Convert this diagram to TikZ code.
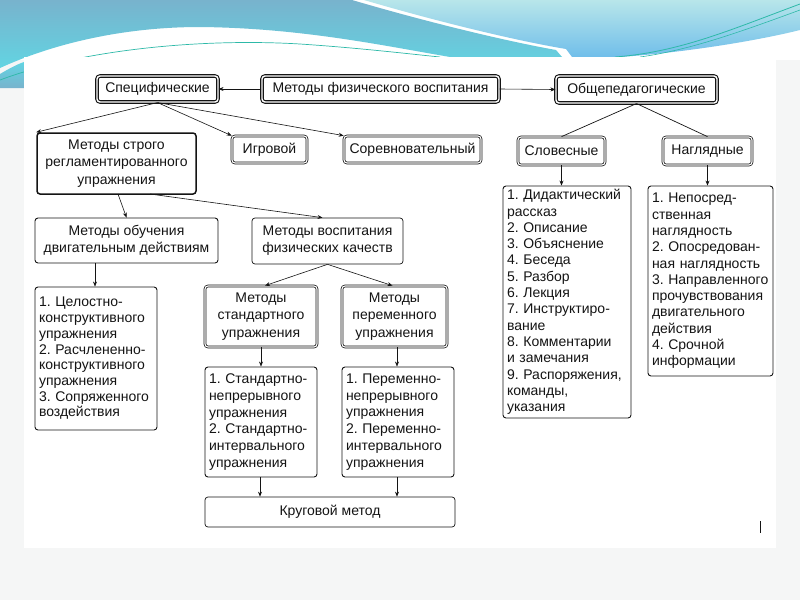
\documentclass[tikz,border=0pt]{standalone}
\usepackage{fontspec}
\setmainfont{Liberation Sans}
\usetikzlibrary{arrows.meta}
\frenchspacing
\definecolor{ink}{HTML}{141414}
\definecolor{slidebg}{HTML}{F5F6F6}
\definecolor{tealA}{HTML}{78B3CD}
\definecolor{tealB}{HTML}{62D4E2}
\definecolor{blueA}{HTML}{B8E6EA}
\definecolor{blueB}{HTML}{70BEEA}
\definecolor{tline}{HTML}{2DB9A8}
\tikzset{
  base/.style={rounded corners=3pt, text=ink, align=center, inner sep=2pt},
  topbox/.style={base, draw=ink, line width=1.1pt, double=white, double distance=1.4pt},
  dblbox/.style={base, draw=ink, line width=0.75pt, double=white, double distance=1.1pt},
  thickbox/.style={base, draw=ink, line width=1.5pt},
  plainbox/.style={base, draw=ink, line width=0.9pt},
  thinbox/.style={base, draw=ink, line width=0.7pt},
  listbox/.style={base, draw=ink, line width=0.9pt, align=left, inner xsep=4pt, font=\fontsize{14}{16.3}\selectfont},
  arr/.style={draw=ink, line width=0.6pt, -{Stealth[length=5pt,width=4pt]}},
  link/.style={draw=ink, line width=0.7pt}
}
\begin{document}
\begin{tikzpicture}[x=1pt,y=-1pt,font=\fontsize{14}{17.2}\selectfont]
\useasboundingbox (0,0) rectangle (800,600);
% slide background
\fill[slidebg] (0,0) rectangle (800,600);
\fill[white] (0,0) rectangle (800,60);
% waves
\shade[top color=tealA, bottom color=tealB]
  (0,0) -- (352,0) .. controls (420,20) and (500,40) .. (556,50) -- (562,57)
  -- (450,57) .. controls (380,45) and (300,28) .. (200,27)
  .. controls (120,27) and (50,45) .. (0,68) -- cycle;
\shade[top color=blueA, bottom color=blueB]
  (364,0) .. controls (432,20) and (512,40) .. (566,49) -- (572,57)
  -- (620,57) .. controls (690,52) and (760,40) .. (800,30) -- (800,0) -- cycle;
\shade[top color=tealB, bottom color=tealA] (0,74) .. controls (10,68) and (18,64) .. (24,62) -- (24,88) -- (0,88) -- cycle;
\draw[tline, line width=0.8pt] (800,4) .. controls (730,30) and (680,52) .. (615,57);
\draw[tline, line width=0.6pt] (800,10) .. controls (740,32) and (690,50) .. (640,57);
\draw[tline, line width=0.7pt] (0,80) .. controls (80,50) and (200,38) .. (300,44) .. controls (360,48) and (410,54) .. (440,57);
% page
\fill[white] (24,57) rectangle (776,548);
\draw[ink, line width=0.6pt] (760,521) -- (760,533);

% top row
\node[topbox, minimum width=121pt, minimum height=26pt] (spec) at (157.5,89) {Специфические};
\node[topbox, minimum width=237pt, minimum height=26pt] (main) at (380.5,89) {Методы физического воспитания};
\node[topbox, minimum width=161pt, minimum height=27pt] (obsh) at (636.5,89.5) {Общепедагогические};

% second row
\node[thickbox, minimum width=159pt, minimum height=61pt] (strogo) at (116.5,163.5) {Методы строго\\регламентированного\\упражнения};
\node[dblbox, minimum width=75pt, minimum height=27pt] (igr) at (269.5,149.5) {Игровой};
\node[dblbox, minimum width=137pt, minimum height=27pt] (sorev) at (412.5,149.5) {Соревновательный};
\node[dblbox, minimum width=87pt, minimum height=28pt] (slov) at (561.5,151) {Словесные};
\node[dblbox, minimum width=89pt, minimum height=28pt] (nagl) at (707.5,151) {Наглядные};

% lists on the right
\node[listbox, text width=120pt, minimum height=232pt] (slovlist) at (567,302) {1. Дидактический\\рассказ\\2. Описание\\3. Объяснение\\4. Беседа\\5. Разбор\\6. Лекция\\7. Инструктиро-\\вание\\8. Комментарии\\и замечания\\9. Распоряжения,\\команды,\\указания};
\node[listbox, text width=117pt, minimum height=190pt] (nagllist) at (710.5,281) {1. Непосред-\\ственная\\наглядность\\2. Опосредован-\\ная наглядность\\3. Направленного\\прочувствования\\двигательного\\действия\\4. Срочной\\информации};

% third row
\node[plainbox, minimum width=183pt, minimum height=45pt] (obuch) at (126.5,240.5) {Методы обучения\\двигательным действиям};
\node[thinbox, minimum width=151pt, minimum height=46pt] (vosp) at (327.5,241) {Методы воспитания\\физических качеств};

\node[listbox, text width=114pt, minimum height=143pt, font=\fontsize{14}{15.7}\selectfont] (list1) at (96,358.5) {1. Целостно-\\конструктивного\\упражнения\\2. Расчлененно-\\конструктивного\\упражнения\\3. Сопряженного\\воздействия};

\node[dblbox, minimum width=112pt, minimum height=61pt] (std) at (261,316.5) {Методы\\стандартного\\упражнения};
\node[dblbox, minimum width=105pt, minimum height=61pt] (per) at (394.5,316.5) {Методы\\переменного\\упражнения};

\node[listbox, text width=104pt, minimum height=110pt, font=\fontsize{14}{16.8}\selectfont] (stdlist) at (261,422) {1. Стандартно-\\непрерывного\\упражнения\\2. Стандартно-\\интервального\\упражнения};
\node[listbox, text width=104pt, minimum height=110pt, font=\fontsize{14}{16.8}\selectfont] (perlist) at (398,422) {1. Переменно-\\непрерывного\\упражнения\\2. Переменно-\\интервального\\упражнения};

\node[thinbox, minimum width=250pt, minimum height=30pt] (krug) at (330,512) {Круговой метод};

% connectors
\draw[arr] (main.west) -- (spec.east);
\draw[arr] (main.east) -- (obsh.west);
\draw[arr] (spec.south) -- (strogo.north west);
\draw[arr] (spec.south) -- (igr.north west);
\draw[arr] (spec.south) -- (sorev.north west);
\draw[link] (obsh.south) -- (slov.north);
\draw[link] (obsh.south) -- (nagl.north);
\draw[arr] (slov.south) -- (slov.south |- slovlist.north);
\draw[arr] (nagl.south) -- (nagl.south |- nagllist.north);
\coordinate (s1) at (118,194);
\coordinate (s2) at (150,194);
\draw[arr] (s1) -- (obuch.north);
\draw[arr] (s2) -- ([xshift=-5pt]vosp.north);
\coordinate (o1) at (95,263);
\draw[arr] (o1) -- (o1 |- list1.north);
\draw[arr] (vosp.south) -- ([xshift=4pt]std.north);
\draw[arr] (vosp.south) -- ([xshift=-2pt]per.north);
\draw[arr] (std.south) -- (std.south |- stdlist.north);
\coordinate (p1) at (397,347);
\draw[arr] (p1) -- (p1 |- perlist.north);
\coordinate (k1) at (260,477);
\coordinate (k2) at (397,477);
\draw[arr] (k1) -- (k1 |- krug.north);
\draw[arr] (k2) -- (k2 |- krug.north);
\end{tikzpicture}
\end{document}
